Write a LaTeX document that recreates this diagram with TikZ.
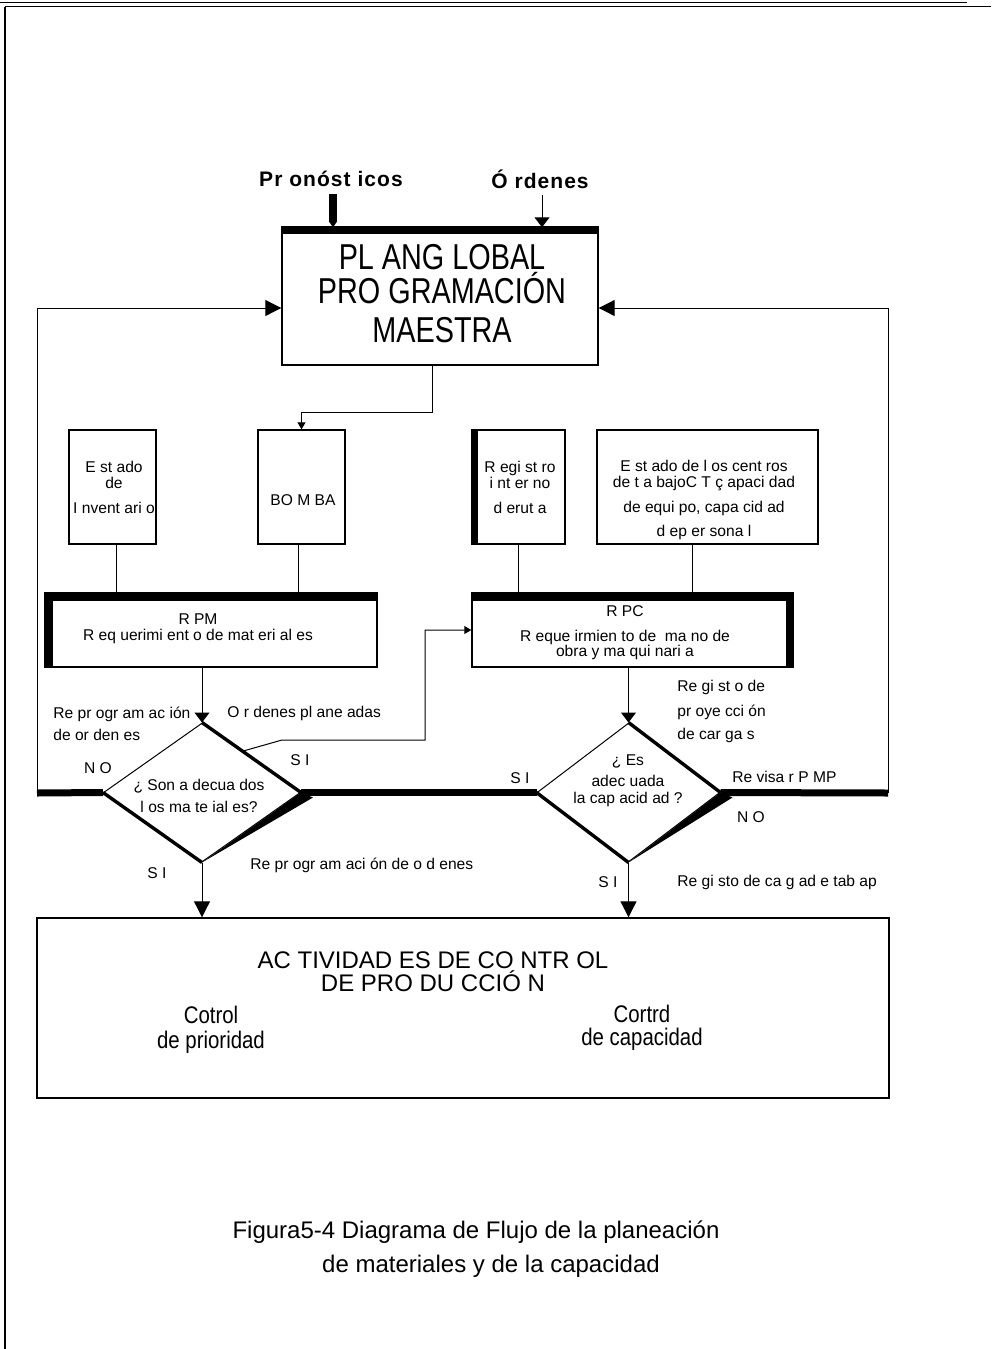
\documentclass[tikz,border=0pt]{standalone}
\usepackage{fontspec}
\setmainfont{Liberation Sans}
\newfontfamily\narrowbig[FakeStretch=0.8]{Liberation Sans}
\newfontfamily\narrowmid[FakeStretch=0.85]{Liberation Sans}
\newfontfamily\spacedsans[LetterSpace=5]{Liberation Sans}
\usetikzlibrary{arrows.meta,shapes.geometric,calc}

\tikzset{
  conn/.style={line width=0.5pt},
  boxframe/.style={draw, rectangle, line width=0.7pt, inner sep=0pt},
  decision/.style={draw, diamond, line width=0.5pt, inner sep=0pt},
  lbl/.style={inner sep=0pt, font=\fontsize{7.8}{8.5}\selectfont},
  toplbl/.style={inner sep=0pt, font=\spacedsans\bfseries\fontsize{10.5}{12}\selectfont},
  bigtip/.style={-{Triangle[length=8pt,width=8pt]}},
  midtip/.style={-{Triangle[length=5pt,width=7.5pt]}},
  smalltip/.style={-{Triangle[length=3.5pt,width=4pt]}},
  fattip/.style={-{Triangle[length=3pt,width=4pt]}},
  thickrule/.style={line width=3.5pt},
  heavy/.style={line width=1.7pt},
}

\begin{document}
\begin{tikzpicture}[x=0.5pt,y=-0.5pt]
\useasboundingbox (0,0) rectangle (991,1349);

% page frame
\draw[line width=0.8pt] (0,2.5) -- (967,2.5);
\draw[line width=0.8pt] (5,6.5) -- (991,6.5);
\draw[line width=0.8pt] (5,6.5) -- (5,1349);

% boxes
\node[boxframe, minimum width=158pt, minimum height=68.5pt] (plan) at (440,296.5) {};
\node[boxframe, minimum width=43.5pt, minimum height=57pt] (inv) at (112.5,487) {};
\node[boxframe, minimum width=43.5pt, minimum height=57pt] (bomba) at (301.5,487) {};
\node[boxframe, minimum width=46.5pt, minimum height=57pt] (reg) at (518.5,487) {};
\node[boxframe, minimum width=110.5pt, minimum height=57pt] (est) at (707.5,487) {};
\node[boxframe, minimum width=166pt, minimum height=37pt] (rpm) at (211,630) {};
\node[boxframe, minimum width=160.5pt, minimum height=37pt] (rpc) at (632.5,630) {};
\node[boxframe, minimum width=426pt, minimum height=90pt] (act) at (463,1008) {};

% decisions
\node[decision, minimum width=98.5pt, minimum height=69.5pt] (d1) at (202,792.5) {};
\node[decision, minimum width=91.5pt, minimum height=69.5pt] (d2) at (628.5,792.5) {};

% heavy borders of boxes
\fill ([yshift=0.5pt]plan.north west) rectangle ([yshift=-3.5pt]plan.north east);
\fill (rpm.north west) rectangle ([yshift=-4.5pt]rpm.north east);
\fill (rpm.north west) rectangle ([xshift=4.5pt]rpm.south west);
\fill (rpc.north west) rectangle ([yshift=-4.5pt]rpc.north east);
\fill (rpc.north east) rectangle ([xshift=-4pt]rpc.south east);
\fill (reg.north west) rectangle ([xshift=3.5pt]reg.south west);

% heavy edges of the decisions
\draw[heavy] (d1.north) -- (d1.east);
\draw[heavy] (d1.west) -- (d1.south);
\fill (d1.south) -- (d1.east) -- ([xshift=6pt,yshift=-2.5pt]d1.east) -- cycle;
\draw[heavy] (d2.north) -- (d2.east);
\draw[heavy] (d2.west) -- (d2.south);
\fill (d2.south) -- (d2.east) -- ([xshift=6pt,yshift=-2.5pt]d2.east) -- cycle;

% texts in the boxes
\node[inner sep=0pt, align=center, font=\narrowbig\fontsize{18}{15.5}\selectfont] (plantxt) at (442,293.5)
  {PL ANG LOBAL\\PRO GRAMACIÓN\\[4pt]MAESTRA};
\node[lbl, align=center] (invtxt) at (114,487.5) {E st ado\\[-0.5pt]de\\[4pt]I nvent ari o};
\node[lbl] (bombatxt) at (303,500) {BO M BA};
\node[lbl, align=center] (regtxt) at (520,487.5) {R egi st ro\\[-0.5pt]i nt er no\\[4pt]d erut a};
\node[lbl, align=center] (esttxt) at (704,499.5)
  {E st ado de l os cent ros\\[-0.5pt]de t a bajoC T ç apaci dad\\[4pt]de equi po, capa cid ad\\[3.5pt]d ep er sona l};
\node[lbl, align=center] (rpmtxt) at (198,629) {R PM\\[-0.5pt]R eq uerimi ent o de mat eri al es};
\node[lbl, align=center] (rpctxt) at (625,633) {R PC\\[4pt]R eque irmien to de\ \ ma no de\\[-1pt]obra y ma qui nari a};
\node[inner sep=0pt, align=center, font=\fontsize{12}{11.5}\selectfont] (acttitle) at (433,971.5)
  {AC TIVIDAD ES DE CO NTR OL\\DE PRO DU CCIÓ N};
\node[inner sep=0pt, align=center, font=\narrowmid\fontsize{12}{12.5}\selectfont] (ctrlprio) at (211,1030) {Cotrol\\de prioridad};
\node[inner sep=0pt, align=center, font=\narrowmid\fontsize{12}{11.5}\selectfont] (ctrlcap) at (642,1028) {Cortrd\\de capacidad};

% inputs on top
\node[toplbl] (pron) at (331,179) {Pr onóst icos};
\node[toplbl] (ord) at (540,179) {Ó rdenes};
\coordinate (pronfoot) at (333,194);
\coordinate (ordfoot) at (542,195);
\draw[line width=4pt, fattip] (pronfoot) -- (pronfoot |- plan.north);
\draw[conn, midtip] (ordfoot) -- (ordfoot |- plan.north);

% master plan to BOMBA
\coordinate (pdrop) at (432,412);
\draw[conn, smalltip] (pdrop |- plan.south) -- (pdrop) -| (bomba.north);

% records feeding the requirement boxes
\draw[conn] ([xshift=2pt]inv.south) -- ([xshift=2pt]inv.south |- rpm.north);
\draw[conn] ([xshift=-1.5pt]bomba.south) -- ([xshift=-1.5pt]bomba.south |- rpm.north);
\draw[conn] (reg.south) -- (reg.south |- rpc.north);
\draw[conn] ([xshift=-7.5pt]est.south) -- ([xshift=-7.5pt]est.south |- rpc.north);

% requirements to decisions
\draw[conn, midtip] (rpm.south -| d1.north) -- (d1.north);
\draw[conn, midtip] (rpc.south -| d2.north) -- (d2.north);

% decisions to production control
\draw[conn, bigtip] (d1.south) -- (d1.south |- act.north);
\draw[conn, bigtip] (d2.south) -- (d2.south |- act.north);

% planned orders to the capacity requirement
\coordinate (sikink) at (282,740);
\coordinate (sibend) at (425,740);
\draw[conn, smalltip] ($(d1.north)!0.41!(d1.east)$) -- (sikink) -- (sibend) |- (rpc.west);

% feedback loops to the master plan
\coordinate (leftjoin) at (37,793);
\coordinate (rightjoin) at (888,793);
\coordinate (lup) at (37,308);
\coordinate (rup) at (888,308);
\draw[conn, bigtip] (leftjoin) -- (lup) -- (lup -| plan.west);
\draw[conn, bigtip] (rightjoin) -- (rup) -- (rup -| plan.east);

% heavy horizontal rule through the decisions
\draw[thickrule] (leftjoin) -- (d1.west);
\draw[thickrule] (d1.east) -- (d2.west);
\draw[thickrule] (d2.east) -- (rightjoin);

% labels along the flow
\node[lbl, anchor=west, align=left] (reprog) at (53,724) {Re pr ogr am ac ión\\[2.5pt]de or den es};
\node[lbl, anchor=west] (ordplan) at (227,713) {O r denes pl ane adas};
\node[lbl] (no1) at (98,768) {N O};
\node[lbl] (si1) at (300,760) {S I};
\node[lbl] (si2) at (157,873) {S I};
\node[lbl, anchor=west] (reprog2) at (250,865) {Re pr ogr am aci ón de o d enes};
\node[lbl, anchor=west, align=left] (proy) at (677,711) {Re gi st o de\\[4pt]pr oye cci ón\\[3pt]de car ga s};
\node[lbl] (si3) at (520,778) {S I};
\node[lbl, anchor=west] (revisa) at (732,777) {Re visa r P MP};
\node[lbl] (no2) at (751,817) {N O};
\node[lbl] (si4) at (608,882) {S I};
\node[lbl, anchor=west] (carga) at (677,882) {Re gi sto de ca g ad e tab ap};
\node[lbl, align=center] (q1) at (199,796) {¿ Son a decua dos\\[2.5pt]l os ma te ial es?};
\node[lbl, align=center] (q2) at (628,781) {¿ Es\\[2pt]adec uada\\la cap acid ad ?};

% caption
\node[inner sep=0pt, font=\fontsize{12}{14}\selectfont] (cap1) at (476,1232) {Figura5-4 Diagrama de Flujo de la planeación};
\node[inner sep=0pt, font=\fontsize{12}{14}\selectfont] (cap2) at (491,1266) {de materiales y de la capacidad};
\end{tikzpicture}
\end{document}
